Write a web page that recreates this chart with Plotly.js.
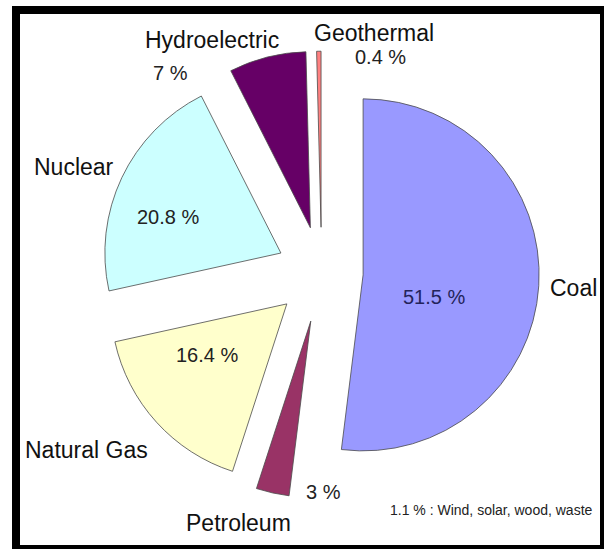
<!DOCTYPE html>
<html>
<head>
<meta charset="utf-8">
<script src="https://cdn.plot.ly/plotly-3.0.1.min.js"></script>
<style>html,body{margin:0;padding:0;background:#fff;}#chart{width:604px;height:549px;}</style>
</head>
<body>
<div id="chart"></div>
<script>
// ---- data ----
var labels = ['Coal', 'Petroleum', 'Natural Gas', 'Nuclear', 'Hydroelectric', 'Geothermal'];
var values = [51.5, 3, 16.4, 20.8, 7, 0.4];
var otherLabel = 'Wind, solar, wood, waste';
var otherValue = 1.1;

// ---- styles ----
var colors = ['#9999FF', '#993366', '#FFFFCC', '#CCFFFF', '#660066', '#FF8080'];
var pulls = [0.236, 0.284, 0.267, 0.256, 0.261, 0.256];
// label placement (pixels in the 604x549 page): name and percentage
var namePos = [[573, 288], [238, 523], [86, 450], [74, 167], [212, 40], [374, 33]];
var pctPos  = [[434, 297], [323, 492], [207, 355], [168, 217], [170, 73], [380, 57]];

var W = 604, H = 549;
function px(x) { return x / W; }
function py(y) { return 1 - y / H; }
var FONT = 'Liberation Sans, Arial, sans-serif';

var annotations = [];
for (var i = 0; i < labels.length; i++) {
  annotations.push({
    xref: 'paper', yref: 'paper', x: px(namePos[i][0]), y: py(namePos[i][1]),
    xanchor: 'center', yanchor: 'middle', showarrow: false,
    text: labels[i], font: {family: FONT, size: 23, color: '#111'}
  });
  annotations.push({
    xref: 'paper', yref: 'paper', x: px(pctPos[i][0]), y: py(pctPos[i][1]),
    xanchor: 'center', yanchor: 'middle', showarrow: false,
    text: values[i] + ' %', font: {family: FONT, size: 20, color: i === 0 ? '#23235a' : '#222'}
  });
}
annotations.push({
  xref: 'paper', yref: 'paper', x: px(388), y: py(510),
  xanchor: 'left', yanchor: 'middle', showarrow: false,
  text: otherValue + ' % : ' + otherLabel,
  font: {family: FONT, size: 14, color: '#222'}
});

var trace = {
  type: 'pie',
  labels: labels,
  values: values,
  sort: false,
  direction: 'clockwise',
  rotation: 0,
  pull: pulls,
  textinfo: 'none',
  hoverinfo: 'none',
  showlegend: false,
  marker: {colors: colors, line: {color: '#4a4a4a', width: 0.8}},
  domain: {x: [0.1, 0.965], y: [0.0923, 0.9157]}
};

var layout = {
  width: W, height: H,
  margin: {l: 0, r: 0, t: 0, b: 0},
  paper_bgcolor: '#fff',
  plot_bgcolor: '#fff',
  showlegend: false,
  annotations: annotations,
  shapes: [{
    type: 'rect', xref: 'paper', yref: 'paper',
    x0: px(16), x1: px(604), y0: py(549), y1: py(10),
    line: {color: '#000', width: 8}, fillcolor: 'rgba(0,0,0,0)'
  }]
};

Plotly.newPlot('chart', [trace], layout, {displayModeBar: false, staticPlot: true});
</script>
</body>
</html>
